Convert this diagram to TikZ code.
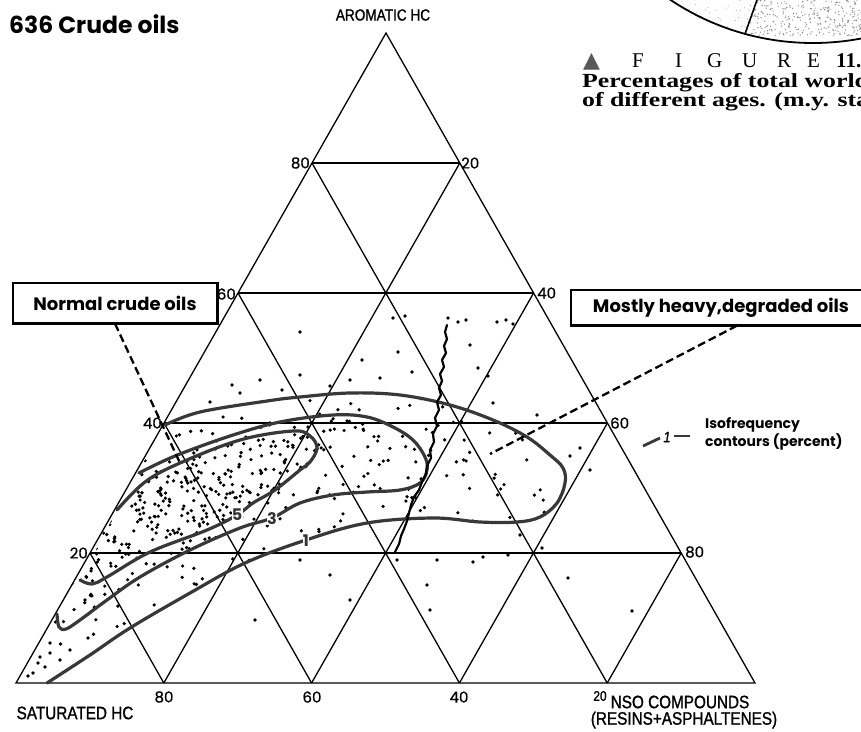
\documentclass[tikz,border=0pt]{standalone}
\usepackage{fontspec}
\setmainfont{Liberation Serif}
\newfontfamily\pop{Poppins}
\newfontfamily\popb[FakeBold=0.8]{Poppins}
\newfontfamily\cond[FakeStretch=0.85,FakeBold=1.2]{Liberation Sans}
\newfontfamily\capb[FakeStretch=1.29]{Liberation Serif}
\newfontfamily\capr{Liberation Serif}
\newfontfamily\dv{DejaVu Sans}
\usetikzlibrary{calc}
\begin{document}
\begin{tikzpicture}[x=1pt,y=-1pt,
 grid/.style={line width=1.3pt},
 contour/.style={line width=3.2pt, draw=black!78, line cap=round, line join=round},
 dot/.style={fill=black},
 tick/.style={font=\popb\fontsize{15}{15}\selectfont, inner sep=1pt},
 clab/.style={font=\pop\bfseries\fontsize{16}{16}\selectfont, text=black!80, fill=white, inner sep=0.3pt},
 axl/.style={font=\cond\fontsize{18}{18}\selectfont, inner sep=0pt},
 boxed/.style={draw, line width=1.3pt, fill=white, font=\pop\bfseries\fontsize{18}{18}\selectfont, inner sep=0pt},
 lead/.style={line width=2.3pt, dash pattern=on 8pt off 4pt},
 capl/.style={font=\capr\fontsize{21}{21}\selectfont, anchor=base west, inner sep=0pt},
 capt/.style={font=\capb\bfseries\fontsize{20}{20}\selectfont, anchor=base west, inner sep=0pt},
]
\useasboundingbox (0,0) rectangle (861,731);
\clip (0,0) rectangle (861,731);
\fill[white] (0,0) rectangle (861,731);

% ---- fragment of neighbouring figure (top right) ----
\begin{scope}
 \clip (813,-214) circle (257pt);
 \clip (757,-2) -- (745,36) -- (870,36) -- (870,-2) -- cycle;
 \pgfmathsetseed{99}
 \foreach \i in {1,...,320} {\fill[black!45] ({745+120*rnd},{36*rnd}) circle[radius=0.7pt];}
\end{scope}
\begin{scope}
 \clip (813,-214) circle (257pt);
 \pgfmathsetseed{98}
 \foreach \i in {1,...,50} {\fill[black!30] ({670+85*rnd},{30*rnd}) circle[radius=0.6pt];}
\end{scope}
\draw[line width=1.8pt] (813,-214) circle (257pt);
\coordinate (fa) at (757,0);
\coordinate (fb) at (745,34);
\draw[line width=1.6pt] (fa) -- (fb);
\node[font=\dv\fontsize{22}{22}\selectfont, text=black!65, anchor=base west, inner sep=0pt] (tri) at (583,67) {▲};
\foreach \l/\xx [count=\n] in {F/632,I/675,G/707,U/742,R/777,E/807} {\node[capl] (fig\n) at (\xx,67) {\l};}
\node[capl] (fignum) at (836,67) {\bfseries 11.};
\node[capt] (cap1) at (582,87) {Percentages of total world};
\node[capt] (cap2) at (582,106) {of different ages. (m.y. sta};

% ---- title ----
\node[font=\pop\bfseries\fontsize{23.5}{23.5}\selectfont, anchor=west, inner sep=0pt] (title) at (9,24) {636 Crude oils};

% ---- triangle ----
\coordinate (S) at (16,683);
\coordinate (N) at (755,683);
\coordinate (Ar) at (386,33);
\foreach \k in {0.2,0.4,0.6,0.8} {
  \pgfmathsetmacro\kk{1-\k}
  \draw[grid] ($(S)!\k!(Ar)$) -- ($(N)!\k!(Ar)$);
  \draw[grid] ($(S)!\k!(N)$) -- ($(N)!\kk!(Ar)$);
  \draw[grid] ($(S)!\k!(N)$) -- ($(S)!\k!(Ar)$);
}
\draw[grid, line join=miter] (S) -- (N) -- (Ar) -- cycle;

% ---- data points ----
\pgfmathsetseed{12345}
\begin{scope}
 \clip plot[smooth,tension=0.6] coordinates {(47,683) (90,655) (130,628) (190,593) (245,563) (306,540) (367,523) (433,518) (480,522) (517,522) (540,517) (557,503) (565,483) (563,468) (550,455) (527,437) (493,420) (450,405) (400,395) (350,393) (300,397) (267,401) (200,412) (165,425)} -- (16,683) -- cycle;
 \foreach \i in {1,...,330} {\fill[dot] ({40+530*rnd},{390+260*rnd}) circle[radius=1.8pt];}
\end{scope}
\begin{scope}
 \clip plot[smooth,tension=0.6] coordinates {(139,473) (175,456) (230,436) (280,422) (333,415) (367,417) (393,427) (413,440) (425,457) (427,470) (420,483) (400,490) (367,492) (333,495) (300,503) (272,518) (240,528) (190,550) (140,577) (107,600) (80,620) (66,629) (59,627) (57,614)} -- cycle;
 \foreach \i in {1,...,300} {\fill[dot] ({55+375*rnd},{413+217*rnd}) circle[radius=1.8pt];}
\end{scope}
\begin{scope}
 \clip plot[smooth,tension=0.6] coordinates {(117,510) (145,482) (180,463) (240,440) (293,431) (310,436) (317,448) (310,462) (300,470) (275,490) (253,503) (237,515) (207,530) (150,552) (107,577) (92,584) (80,580)} -- cycle;
 \foreach \i in {1,...,380} {\fill[dot] ({78+242*rnd},{428+162*rnd}) circle[radius=1.8pt];}
\end{scope}
\foreach \p in {(393,318),(405,316),(448,318),(458,322),(466,320),(497,322),(506,320),(513,324),(470,345),(300,332),(362,360),(398,352),(412,372),(478,368),(488,376),(350,380),(330,386),(282,390),(240,393),(210,402),(232,385),(300,375),(380,378),(260,380),(493,403),(537,415),(580,448),(570,456),(590,470),(568,578),(427,585),(430,610),(350,600),(397,560),(437,560),(473,562),(483,557),(508,555),(542,548),(632,611),(255,620),(50,643),(40,657),(33,673),(45,667),(70,650),(88,638),(50,653),(38,663),(28,676),(60,660),(300,560),(330,575),(520,535)}
  {\fill[dot] \p circle[radius=1.8pt];}

% ---- contours ----
\draw[contour] plot[smooth,tension=0.6] coordinates {(47,683) (90,655) (130,628) (190,593) (245,563) (306,540) (367,523) (433,518) (480,522) (517,522) (540,517) (557,503) (565,483) (563,468) (550,455) (527,437) (493,420) (450,405) (400,395) (350,393) (300,397) (267,401) (200,412) (165,425)};
\draw[contour] plot[smooth,tension=0.6] coordinates {(139,473) (175,456) (230,436) (280,422) (333,415) (367,417) (393,427) (413,440) (425,457) (427,470) (420,483) (400,490) (367,492) (333,495) (300,503) (272,518) (240,528) (190,550) (140,577) (107,600) (80,620) (66,629) (59,627) (57,614)};
\draw[contour] plot[smooth,tension=0.6] coordinates {(117,510) (145,482) (180,463) (240,440) (293,431) (310,436) (317,448) (310,462) (300,470) (275,490) (253,503) (237,515) (207,530) (150,552) (107,577) (92,584) (80,580)};
\node[clab] (c1) at (306,541) {1};
\node[clab] (c3) at (272,519) {3};
\node[clab] (c5) at (237,515) {5};

% ---- wiggly boundary ----
\draw[line width=2.2pt, line join=round, line cap=round] plot coordinates {(447,325) (445,332) (447,339) (444,346) (446,353) (442,360) (444,367) (440,374) (442,381) (439,388) (441,395) (437,402) (439,410) (435,418) (437,426) (433,434) (434,442) (430,450) (431,458) (427,466) (426,474) (422,482) (419,490) (414,497) (411,505) (409,513) (407,521) (404,529) (401,536) (399,544) (395,552)};

% ---- tick labels ----
\node[tick] (b80) at (164,697) {80};
\node[tick] (b60) at (312,697) {60};
\node[tick] (b40) at (459,697) {40};
\node[tick, anchor=east] (l80) at (311,163) {80};
\node[tick, anchor=east] (l60) at (237,294) {60};
\node[tick, anchor=east] (l40) at (163,423) {40};
\node[tick, anchor=east] (l20) at (89,553) {20};
\node[tick, anchor=west] (r20) at (460,163) {20};
\node[tick, anchor=west] (r40) at (536,293) {40};
\node[tick, anchor=west] (r60) at (609,423) {60};
\node[tick, anchor=west] (r80) at (684,552) {80};

% ---- corner labels ----
\node[axl, font=\cond\fontsize{16}{16}\selectfont] (arom) at (383,15) {AROMATIC HC};
\node[axl] (sat) at (75,713) {SATURATED HC};
\node[axl, font=\cond\fontsize{14}{14}\selectfont] (n20) at (600,696) {20};
\node[axl] (nso) at (680,702) {NSO COMPOUNDS};
\node[axl] (resin) at (684,720) {(RESINS+ASPHALTENES)};

% ---- boxes and leaders ----
\node[boxed, minimum width=204pt, minimum height=40pt] (normal) at (115,303) {Normal crude oils};
\draw[line width=2.8pt] (normal.south west) -- (normal.south east) -- (normal.north east);
\coordinate (nend) at (180,463);
\draw[lead] (normal.south) -- (nend);

\node[boxed, minimum width=300pt, minimum height=35pt] (heavy) at (721,307.5) {Mostly heavy,degraded oils};
\draw[line width=2.8pt] (heavy.south west) -- (heavy.south east);
\coordinate (hend) at (490,454);
\draw[lead] ([xshift=16pt]heavy.south) -- (hend);

% ---- legend ----
\coordinate (lg1) at (643,446);
\coordinate (lg2) at (660,438);
\node[font=\cond\itshape\fontsize{15}{15}\selectfont, inner sep=0pt] (lgone) at (667,437) {1};
\coordinate (lg3) at (674,436);
\coordinate (lg4) at (690,436);
\draw[line width=2.8pt, black!78] (lg1) -- (lg2);
\draw[line width=2.8pt, black!78] (lg3) -- (lg4);
\node[font=\pop\bfseries\fontsize{14}{14}\selectfont, anchor=west, inner sep=0pt] (iso1) at (705,425) {Isofrequency};
\node[font=\pop\bfseries\fontsize{14}{14}\selectfont, anchor=west, inner sep=0pt] (iso2) at (705,442) {contours (percent)};
\end{tikzpicture}
\end{document}
